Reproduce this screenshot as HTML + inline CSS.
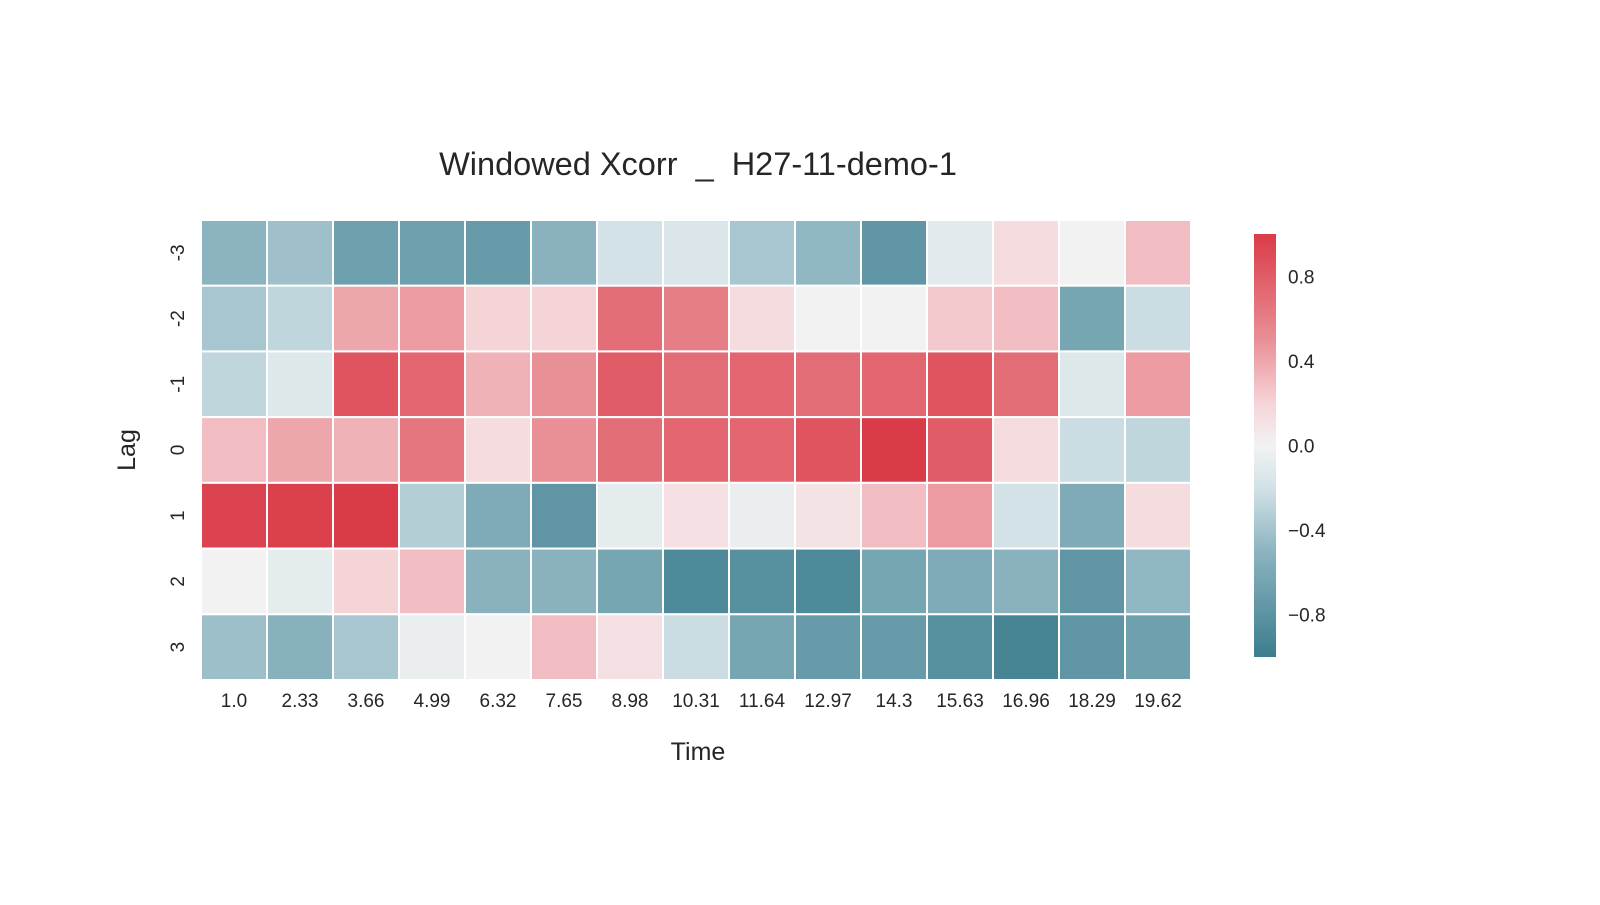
<!DOCTYPE html>
<html><head><meta charset="utf-8"><style>
body{margin:0;background:#fff;}
svg text{font-family:"Liberation Sans",Arial,sans-serif;fill:#262626;}
</style></head><body>
<svg id="chart" width="1600" height="900" xmlns="http://www.w3.org/2000/svg">
<defs><linearGradient id="cbg" x1="0" y1="1" x2="0" y2="0">
<stop offset="0" stop-color="rgb(60,125,142)"/>
<stop offset="0.25" stop-color="rgb(140,180,192)"/>
<stop offset="0.4" stop-color="rgb(210,226,231)"/>
<stop offset="0.5" stop-color="rgb(242,242,242)"/>
<stop offset="0.6" stop-color="rgb(245,212,216)"/>
<stop offset="0.75" stop-color="rgb(233,143,150)"/>
<stop offset="1" stop-color="rgb(218,59,72)"/>
</linearGradient></defs>
<text x="698" y="175" font-size="32.5" text-anchor="middle" style="white-space:pre" xml:space="preserve">Windowed Xcorr  _  H27-11-demo-1</text>
<text x="698" y="760" font-size="25" text-anchor="middle">Time</text>
<text x="0" y="0" font-size="25" text-anchor="middle" transform="translate(135,450) rotate(-90)">Lag</text>
<g id="cells"></g><g id="xt"></g><g id="yt"></g>
<rect x="1254" y="234" width="22" height="423" fill="url(#cbg)"/>
<g id="ct"></g>
</svg>
<script>
const xLabels=["1.0","2.33","3.66","4.99","6.32","7.65","8.98","10.31","11.64","12.97","14.3","15.63","16.96","18.29","19.62"];
const yLabels=["-3","-2","-1","0","1","2","3"];
const rowM3=[-0.5,-0.42,-0.68,-0.68,-0.73,-0.52,-0.2,-0.15,-0.38,-0.48,-0.78,-0.1,0.15,0.0,0.3];
const rowM2=[-0.38,-0.28,0.4,0.45,0.2,0.2,0.7,0.6,0.15,0.0,0.0,0.25,0.3,-0.63,-0.23];
const rowM1=[-0.28,-0.13,0.85,0.75,0.35,0.5,0.8,0.7,0.75,0.7,0.75,0.85,0.7,-0.13,0.45];
const row0=[0.3,0.4,0.35,0.65,0.15,0.5,0.7,0.75,0.75,0.85,1.0,0.8,0.15,-0.23,-0.28];
const row1=[0.95,0.97,1.0,-0.33,-0.58,-0.78,-0.08,0.12,-0.05,0.1,0.3,0.45,-0.2,-0.58,0.15];
const row2=[0.0,-0.08,0.2,0.3,-0.52,-0.52,-0.63,-0.88,-0.83,-0.88,-0.63,-0.58,-0.52,-0.78,-0.48];
const row3=[-0.43,-0.53,-0.38,-0.05,0.0,0.3,0.12,-0.23,-0.63,-0.73,-0.73,-0.83,-0.93,-0.78,-0.68];
const rows=[rowM3,rowM2,rowM1,row0,row1,row2,row3];
const cbTicks=[0.8,0.4,0.0,-0.4,-0.8];
const cbTickLabels=["0.8","0.4","0.0","\u22120.4","\u22120.8"];
const NS="http://www.w3.org/2000/svg";
const X0=201,X1=1191,Y0=220,Y1=680,CB0=234,CB1=657;
const cw=(X1-X0)/xLabels.length, rh=(Y1-Y0)/yLabels.length;
const xs=i=>X0+i*cw, ys=j=>Y0+j*rh, cy=v=>CB1-(v+1)/2*(CB1-CB0);
const stopsV=[-1,-0.5,-0.2,0,0.2,0.5,1];
const stopsC=[[60,125,142],[140,180,192],[210,226,231],[242,242,242],[245,212,216],[233,143,150],[218,59,72]];
function color(v){v=Math.max(-1,Math.min(1,v));let k=0;while(k<stopsV.length-2&&v>stopsV[k+1])k++;
 const t=(v-stopsV[k])/(stopsV[k+1]-stopsV[k]);const a=stopsC[k],b=stopsC[k+1];
 return "rgb("+a.map((q,i)=>Math.round(q+(b[i]-q)*t)).join(",")+")";}
function mk(tag,attrs,parent){const el=document.createElementNS(NS,tag);for(const k in attrs)el.setAttribute(k,attrs[k]);parent.appendChild(el);return el;}
const cells=document.getElementById('cells');
rows.forEach((r,j)=>r.forEach((v,i)=>{
 const el=mk('rect',{x:xs(i),y:ys(j),width:cw,height:rh,fill:color(v),stroke:'#fff','stroke-width':2},cells);
 
 
}));
const xt=document.getElementById('xt');
xLabels.forEach((l,i)=>{const el=mk('text',{x:xs(i)+cw/2,y:707,'font-size':19,'text-anchor':'middle'},xt);el.textContent=l;
 
 });
const yt=document.getElementById('yt');
yLabels.forEach((l,j)=>{const y=ys(j)+rh/2;const el=mk('text',{x:0,y:0,'font-size':19,'text-anchor':'middle',transform:'translate(184,'+y+') rotate(-90)'},yt);el.textContent=l;
 
 });
const ct=document.getElementById('ct');
cbTicks.forEach((v,i)=>{const el=mk('text',{x:1288,y:cy(v)+7,'font-size':19},ct);el.textContent=cbTickLabels[i];
 
 });
</script>
</body></html>
